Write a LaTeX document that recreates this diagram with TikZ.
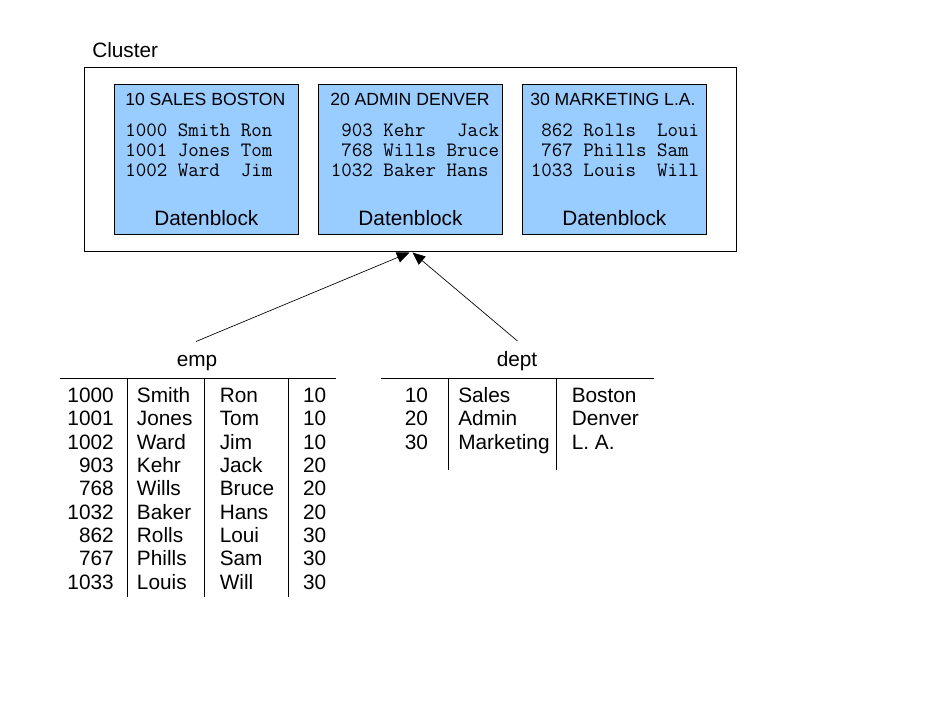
\documentclass[tikz,border=0pt]{standalone}
\usepackage{fontspec}
\setmainfont{Liberation Sans}
\usetikzlibrary{arrows.meta}
\definecolor{blockblue}{RGB}{153,204,255}
\tikzset{
  box/.style={draw=black, line width=0.75pt},
  blockbox/.style={draw=black, fill=blockblue, line width=0.75pt},
  big/.style={font=\fontsize{15.6pt}{18pt}\selectfont, inner sep=0pt},
  title/.style={font=\fontsize{13.2pt}{16pt}\selectfont, inner sep=0pt, anchor=base west},
  mono/.style={font=\ttfamily\fontsize{15.3pt}{18pt}\selectfont, inner sep=0pt, anchor=base west},
  rule/.style={draw=black, line width=0.75pt},
  link/.style={draw=black, line width=0.5pt, -{Triangle[length=9.5pt,width=8pt]}}
}
\begin{document}
\begin{tikzpicture}[x=0.75pt,y=-0.75pt]
\useasboundingbox (0,0) rectangle (937,703);
% cluster
\node[big, anchor=base west] (clusterlbl) at (92,57.3) {Cluster};
\draw[box] (84.3,67.3) rectangle (736,251);
% blocks
\draw[blockbox] (114.3,84.3) rectangle (298.3,234);
\draw[blockbox] (318.7,84.3) rectangle (502.3,234);
\draw[blockbox] (522.7,84.3) rectangle (706,234);
\node[title] (t1) at (125,105) {10 SALES BOSTON};
\node[title] (t2) at (330,105) {20 ADMIN DENVER};
\node[title] (t3) at (530,105) {30 MARKETING L.A.};
\node[mono] (a1) at (125,136) {1000~Smith~Ron};
\node[mono] (a2) at (125,156) {1001~Jones~Tom};
\node[mono] (a3) at (125,176) {1002~Ward~~Jim};
\node[mono] (b1) at (330.7,136) {~903~Kehr~~~Jack};
\node[mono] (b2) at (330.7,156) {~768~Wills~Bruce};
\node[mono] (b3) at (330.7,176) {1032~Baker~Hans};
\node[mono] (c1) at (530.7,136) {~862~Rolls~~Loui};
\node[mono] (c2) at (530.7,156) {~767~Phills~Sam};
\node[mono] (c3) at (530.7,176) {1033~Louis~~Will};
\node[big, anchor=base] (d1) at (206.3,225) {Datenblock};
\node[big, anchor=base] (d2) at (410.5,225) {Datenblock};
\node[big, anchor=base] (d3) at (614.3,225) {Datenblock};
% emp table
\node[big, anchor=base] (emplbl) at (197,366) {emp};
\draw[rule] (60,378) -- (335.7,378);
\draw[rule] (127.7,378) -- (127.7,597);
\draw[rule] (204.3,378) -- (204.3,597);
\draw[rule] (288.7,378) -- (288.7,597);
\foreach \n/\s/\f/\d [count=\i from 0] in {1000/Smith/Ron/10,1001/Jones/Tom/10,1002/Ward/Jim/10,903/Kehr/Jack/20,768/Wills/Bruce/20,1032/Baker/Hans/20,862/Rolls/Loui/30,767/Phills/Sam/30,1033/Louis/Will/30}{
  \node[big, anchor=base east] (en\i) at (114,402.3+23.375*\i) {\n};
  \node[big, anchor=base west] (es\i) at (136.7,402.3+23.375*\i) {\s};
  \node[big, anchor=base west] (ef\i) at (219.5,402.3+23.375*\i) {\f};
  \node[big, anchor=base east] (ed\i) at (326.5,402.3+23.375*\i) {\d};
}
% dept table
\node[big, anchor=base] (deptlbl) at (517,366) {dept};
\draw[rule] (381,378) -- (654,378);
\draw[rule] (448.7,378) -- (448.7,470);
\draw[rule] (556.7,378) -- (556.7,470);
\foreach \n/\s/\c [count=\i from 0] in {10/Sales/Boston,20/Admin/Denver,30/Marketing/L. A.}{
  \node[big, anchor=base east] (dn\i) at (428.3,402.3+23.375*\i) {\n};
  \node[big, anchor=base west] (ds\i) at (458,402.3+23.375*\i) {\s};
  \node[big, anchor=base west] (dc\i) at (571.5,402.3+23.375*\i) {\c};
}
% arrows
\coordinate (empstart) at (196,341.5);
\coordinate (deptstart) at (517.5,341);
\coordinate (tipA) at (409.5,252.5);
\coordinate (tipB) at (412.5,252.5);
\draw[link] (empstart) -- (tipA);
\draw[link] (deptstart) -- (tipB);
\end{tikzpicture}
\end{document}
